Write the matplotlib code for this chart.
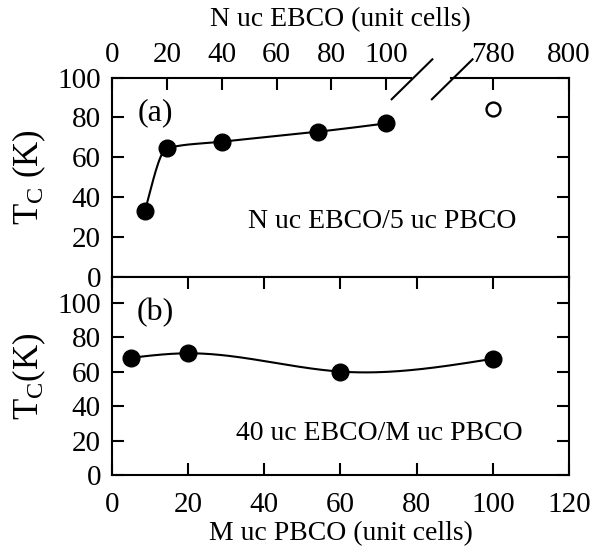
import numpy as np
import matplotlib
matplotlib.use('Agg')
from matplotlib import pyplot as plt

plt.rcParams['font.family'] = ['Liberation Serif', 'DejaVu Serif']
plt.rcParams['mathtext.fontset'] = 'custom'
plt.rcParams['mathtext.rm'] = 'Liberation Serif'
plt.rcParams['mathtext.it'] = 'Liberation Serif:italic'

# (a) N uc EBCO / 5 uc PBCO
n_ebco = [12, 20, 40, 75, 100]
tc_a = [33, 64.5, 67.8, 72.8, 77]
n_bulk = [780]
tc_bulk = [84.2]

# (b) 40 uc EBCO / M uc PBCO
m_pbco = [5, 20, 60, 100]
tc_b = [68.2, 70.8, 60.2, 67.6]

top_ticks = [0, 20, 40, 60, 80, 100, 780, 800]


def natural_spline(x, y, num=200):
    x = np.asarray(x, float)
    y = np.asarray(y, float)
    n = len(x)
    h = np.diff(x)
    A = np.zeros((n, n))
    b = np.zeros(n)
    A[0, 0] = 1
    A[-1, -1] = 1
    for i in range(1, n - 1):
        A[i, i - 1] = h[i - 1]
        A[i, i] = 2 * (h[i - 1] + h[i])
        A[i, i + 1] = h[i]
        b[i] = 3 * ((y[i + 1] - y[i]) / h[i] - (y[i] - y[i - 1]) / h[i - 1])
    c = np.linalg.solve(A, b)
    xs = np.linspace(x[0], x[-1], num)
    ys = np.empty_like(xs)
    for k, xv in enumerate(xs):
        i = min(np.searchsorted(x, xv, side='right') - 1, n - 2)
        dx = xv - x[i]
        bi = (y[i + 1] - y[i]) / h[i] - h[i] * (2 * c[i] + c[i + 1]) / 3
        di = (c[i + 1] - c[i]) / (3 * h[i])
        ys[k] = y[i] + bi * dx + c[i] * dx ** 2 + di * dx ** 3
    return xs, ys


def pchip(x, y, num=200):
    # monotone cubic (Fritsch-Carlson), keeps the knee without overshoot
    x = np.asarray(x, float)
    y = np.asarray(y, float)
    n = len(x)
    h = np.diff(x)
    m = np.diff(y) / h
    d = np.zeros(n)
    for k in range(1, n - 1):
        if m[k - 1] * m[k] > 0:
            w1 = 2 * h[k] + h[k - 1]
            w2 = h[k] + 2 * h[k - 1]
            d[k] = (w1 + w2) / (w1 / m[k - 1] + w2 / m[k])
    d[0] = ((2 * h[0] + h[1]) * m[0] - h[0] * m[1]) / (h[0] + h[1])
    if np.sign(d[0]) != np.sign(m[0]):
        d[0] = 0
    d[-1] = ((2 * h[-1] + h[-2]) * m[-1] - h[-1] * m[-2]) / (h[-1] + h[-2])
    if np.sign(d[-1]) != np.sign(m[-1]):
        d[-1] = 0
    xs = np.linspace(x[0], x[-1], num)
    ys = np.empty_like(xs)
    for j, xv in enumerate(xs):
        i = min(np.searchsorted(x, xv, side='right') - 1, n - 2)
        t = (xv - x[i]) / h[i]
        h00 = 2 * t ** 3 - 3 * t ** 2 + 1
        h10 = t ** 3 - 2 * t ** 2 + t
        h01 = -2 * t ** 3 + 3 * t ** 2
        h11 = t ** 3 - t ** 2
        ys[j] = h00 * y[i] + h10 * h[i] * d[i] + h01 * y[i + 1] + h11 * h[i] * d[i + 1]
    return xs, ys


# broken top axis: 0-100 squeezed, gap, then 780-800
def fwd(v):
    v = np.asarray(v, float)
    return np.where(v <= 100, v * 0.72,
                    np.where(v < 780, 72 + (v - 100) * 28.0 / 680, 100 + (v - 780)))


def inv(u):
    u = np.asarray(u, float)
    return np.where(u <= 72, u / 0.72,
                    np.where(u < 100, 100 + (u - 72) * 680 / 28.0, 780 + (u - 100)))


fig = plt.figure(figsize=(5.92, 5.52), dpi=100)
ax1 = fig.add_axes([0.1892, 0.4982, 0.7719, 0.3614])
ax2 = fig.add_axes([0.1892, 0.1386, 0.7719, 0.3596])

tick_kw = dict(direction='in', length=8.5, width=1.5, labelsize=21)

# panel (a)
ax1.set_xscale('function', functions=(fwd, inv))
xs, ys = pchip(n_ebco, tc_a)
ax1.plot(xs, ys, color='black', lw=1.5)
ax1.plot(n_ebco, tc_a, 'o', color='black', ms=12)
ax1.plot(n_bulk, tc_bulk, 'o', mfc='white', mec='black', mew=1.7, ms=10)
ax1.set_xlim(0, 800)
ax1.set_ylim(0, 100)
ax1.set_xticks(top_ticks)
ax1.set_yticks(np.arange(0, 101, 20))
ax1.tick_params(axis='x', top=True, labeltop=True, bottom=False, labelbottom=False, pad=7, **tick_kw)
ax1.tick_params(axis='y', left=True, right=True, pad=8, **tick_kw)
ax1.xaxis.set_label_position('top')
ax1.set_xlabel('N uc EBCO (unit cells)', fontsize=20, labelpad=11)
ax1.set_ylabel(r'T$_\mathrm{C}$ (K)', fontsize=25, labelpad=7)
ax1.text(0.055, 0.824, '(a)', transform=ax1.transAxes, fontsize=23, va='center')
ax1.text(0.298, 0.277, 'N uc EBCO/5 uc PBCO', transform=ax1.transAxes, fontsize=20, va='center')

# broken top spine with slashes
ax1.spines['top'].set_visible(False)
for x0, x1 in [(0, 0.654), (0.742, 1)]:
    ax1.plot([x0, x1], [1, 1], transform=ax1.transAxes, color='black', lw=1.5, clip_on=False)
for x0 in [0.612, 0.700]:
    ax1.plot([x0, x0 + 0.089], [0.891, 1.091], transform=ax1.transAxes,
             color='black', lw=1.5, clip_on=False)

# panel (b)
xs, ys = natural_spline(m_pbco, tc_b)
ax2.plot(xs, ys, color='black', lw=1.5)
ax2.plot(m_pbco, tc_b, 'o', color='black', ms=12)
ax2.set_xlim(0, 120)
ax2.set_ylim(0, 115)
ax2.set_xticks(np.arange(0, 121, 20))
ax2.set_yticks(np.arange(0, 101, 20))
ax2.tick_params(axis='x', top=True, bottom=True, pad=12, **tick_kw)
ax2.tick_params(axis='y', left=True, right=True, pad=8, **tick_kw)
ax2.set_xlabel('M uc PBCO (unit cells)', fontsize=20, labelpad=2)
ax2.set_ylabel(r'T$_\mathrm{C}$(K)', fontsize=25, labelpad=7)
ax2.text(0.053, 0.819, '(b)', transform=ax2.transAxes, fontsize=23, va='center')
ax2.text(0.271, 0.214, '40 uc EBCO/M uc PBCO', transform=ax2.transAxes, fontsize=20, va='center')

for ax in (ax1, ax2):
    for s in ax.spines.values():
        s.set_linewidth(1.5)

plt.savefig('out.png', dpi=100)
